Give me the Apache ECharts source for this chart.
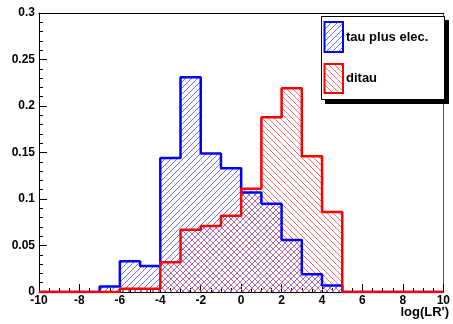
<!DOCTYPE html>
<html><head><meta charset="utf-8">
<script src="https://cdn.jsdelivr.net/npm/echarts@6/dist/echarts.min.js"></script>
<style>html,body{margin:0;padding:0;background:#fff}#c{width:453px;height:324px}</style>
</head><body><div id="c"></div>
<script>
// Histogram bins: left edges -10 .. 9, width 1
const binLow = [-10,-9,-8,-7,-6,-5,-4,-3,-2,-1,0,1,2,3,4,5,6,7,8,9];
const binWidth = 1;
const tauPlusElec = [0,0,0,0.006,0.033,0.028,0.144,0.231,0.149,0.133,0.107,0.095,0.056,0.019,0.007,0,0,0,0,0];
const ditau = [0,0,0,0,0.0035,0.0035,0.032,0.067,0.071,0.082,0.111,0.188,0.219,0.146,0.086,0,0,0,0,0];
const seriesNames = ['tau plus elec.', 'ditau'];
const xLabel = "log(LR')";
const yTicks = [0,0.05,0.1,0.15,0.2,0.25,0.3];

function hatch(color, dir) {
  const s = 6;
  const c = document.createElement('canvas');
  c.width = s; c.height = s;
  const ctx = c.getContext('2d');
  ctx.fillStyle = color;
  for (let i = 0; i < s; i++) {
    const y = dir === '/' ? s - 1 - i : i;
    ctx.fillRect(i, y, 1, 1);
  }
  return c;
}
const bluePat = hatch('rgb(110,110,255)', '/');
const redPat = hatch('rgb(255,110,110)', '\\');

function outline(vals) {
  const pts = [];
  for (let i = 0; i < binLow.length; i++) {
    pts.push([binLow[i], vals[i]]);
    pts.push([binLow[i] + binWidth, vals[i]]);
  }
  return pts;
}
function bins(vals) {
  return binLow.map((lo, i) => [lo, lo + binWidth, vals[i]]);
}
const SP = 6;
function hatchLines(x0, x1, yTop, yBot, dir, color) {
  const out = [];
  if (x1 - x0 < 0.5 || yBot - yTop < 0.5) return out;
  if (dir === '/') {
    const cmin = x0 + yTop, cmax = x1 + yBot;
    for (let c = Math.ceil(cmin / SP) * SP; c <= cmax; c += SP) {
      const xa = Math.max(x0, c - yBot), xb = Math.min(x1, c - yTop);
      if (xb > xa) out.push({type: 'line', silent: true, shape: {x1: xa, y1: c - xa, x2: xb, y2: c - xb}, style: {stroke: color, lineWidth: 1}});
    }
  } else {
    const cmin = yTop - x1, cmax = yBot - x0;
    for (let c = Math.ceil(cmin / SP) * SP; c <= cmax; c += SP) {
      const xa = Math.max(x0, yTop - c), xb = Math.min(x1, yBot - c);
      if (xb > xa) out.push({type: 'line', silent: true, shape: {x1: xa, y1: xa + c, x2: xb, y2: xb + c}, style: {stroke: color, lineWidth: 1}});
    }
  }
  return out;
}
function fillSeries(vals, dir, color, z) {
  return {
    type: 'custom', data: bins(vals), z: z, silent: true,
    encode: {x: [0, 1], y: 2},
    renderItem: (params, api) => {
      const p0 = api.coord([api.value(0), 0]);
      const p1 = api.coord([api.value(1), api.value(2)]);
      return {type: 'group', children: hatchLines(p0[0], p1[0], p1[1], p0[1], dir, color)};
    }
  };
}

const font = '"Liberation Sans", Arial, sans-serif';
const chart = echarts.init(document.getElementById('c'));
chart.setOption({
  animation: false,
  grid: {left: 39, right: 4, top: 13, bottom: 32},
  xAxis: [{
    type: 'value', min: -10, max: 10, interval: 2,
    axisLine: {show: true, onZero: false, lineStyle: {color: '#000', width: 1}},
    axisTick: {show: true, inside: true, length: 8, lineStyle: {color: '#000'}},
    minorTick: {show: true, splitNumber: 4, length: 4, lineStyle: {color: '#000'}},
    splitLine: {show: false},
    axisLabel: {color: '#000', fontFamily: font, fontWeight: 'bold', fontSize: 12, margin: 3,
      formatter: v => String(v)}
  }, {
    type: 'value', min: -10, max: 10, position: 'top',
    axisLine: {show: true, onZero: false, lineStyle: {color: '#000', width: 1}},
    axisTick: {show: false}, axisLabel: {show: false}, splitLine: {show: false}
  }],
  yAxis: [{
    type: 'value', min: 0, max: 0.3, interval: 0.05,
    axisLine: {show: true, onZero: false, lineStyle: {color: '#000', width: 1}},
    axisTick: {show: true, inside: true, length: 8, lineStyle: {color: '#000'}},
    minorTick: {show: true, splitNumber: 5, length: 4, lineStyle: {color: '#000'}},
    splitLine: {show: false},
    axisLabel: {color: '#000', fontFamily: font, fontWeight: 'bold', fontSize: 12, margin: 4,
      formatter: v => { const t = yTicks.find(k => Math.abs(k - v) < 1e-9); return t === undefined ? '' : String(t); }}
  }, {
    type: 'value', min: 0, max: 0.3, position: 'right',
    axisLine: {show: true, onZero: false, lineStyle: {color: '#555', width: 1}},
    axisTick: {show: false}, axisLabel: {show: false}, splitLine: {show: false}
  }],
  series: [
    fillSeries(tauPlusElec, '/', 'rgb(110,110,255)', 1),
    fillSeries(ditau, '\\', 'rgb(255,110,110)', 1),
  {
    name: seriesNames[0], type: 'line', data: outline(tauPlusElec), symbol: 'none',
    lineStyle: {color: '#0000ff', width: 2.5}, z: 2
  }, {
    name: seriesNames[1], type: 'line', data: outline(ditau), symbol: 'none',
    lineStyle: {color: '#ff0000', width: 2.5}, z: 3
  }],
  graphic: [
    {type: 'rect', shape: {x: 325, y: 20, width: 124, height: 84}, style: {fill: '#000'}, z: 10},
    {type: 'rect', shape: {x: 321.5, y: 16.5, width: 123, height: 83}, style: {fill: '#fff', stroke: '#000', lineWidth: 1}, z: 11},
    {type: 'rect', shape: {x: 324.5, y: 22, width: 18.5, height: 30}, style: {fill: {image: bluePat, repeat: 'repeat'}, stroke: '#0000ff', lineWidth: 2}, z: 12},
    {type: 'rect', shape: {x: 324.5, y: 64, width: 18.5, height: 29}, style: {fill: {image: redPat, repeat: 'repeat'}, stroke: '#ff0000', lineWidth: 2}, z: 12},
    {type: 'text', x: 346, y: 37, style: {text: seriesNames[0], fill: '#000', font: 'bold 13px ' + font, textVerticalAlign: 'middle', verticalAlign: 'middle'}, z: 12},
    {type: 'text', x: 346, y: 78, style: {text: seriesNames[1], fill: '#000', font: 'bold 13px ' + font, textVerticalAlign: 'middle', verticalAlign: 'middle'}, z: 12},
    {type: 'text', right: 4, top: 306, style: {text: xLabel, fill: '#000', font: 'bold 13px ' + font}, z: 12}
  ]
});
</script></body></html>
